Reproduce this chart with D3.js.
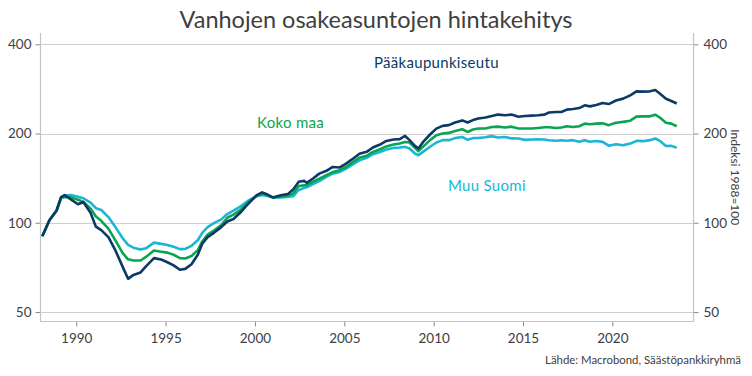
<!DOCTYPE html>
<html>
<head>
<meta charset="utf-8">
<script src="https://cdn.jsdelivr.net/npm/d3@7"></script>
<style>
  body { margin: 0; background: #fff; }
  svg { display: block; font-family: Lato, "Open Sans", sans-serif; }
</style>
</head>
<body>
<script>
// vuosineljännekset desimaalivuosina (luettu kuvasta)
const dates = [1988.1, 1988.5, 1988.9, 1989.15, 1989.35, 1989.7, 1990.1, 1990.4, 1990.8, 1991.1,
  1991.4, 1991.8, 1992.2, 1992.6, 1992.9, 1993.2, 1993.6, 1993.9, 1994.35, 1994.75,
  1995.1, 1995.45, 1995.8, 1996.1, 1996.45, 1996.8, 1997.05, 1997.35, 1997.7, 1998.1,
  1998.45, 1998.8, 1999.2, 1999.6, 2000.1, 2000.4, 2000.7, 2001.0, 2001.45, 2001.85,
  2002.15, 2002.45, 2002.75, 2002.9, 2003.25, 2003.6, 2004.0, 2004.35, 2004.75, 2005.1,
  2005.5, 2005.85, 2006.25, 2006.6, 2007.0, 2007.35, 2007.75, 2008.1, 2008.4, 2008.65,
  2008.95, 2009.15, 2009.4, 2009.8, 2010.15, 2010.5, 2010.85, 2011.2, 2011.6, 2011.9,
  2012.2, 2012.5, 2012.9, 2013.25, 2013.6, 2014.0, 2014.35, 2014.75, 2015.1, 2015.5,
  2015.85, 2016.2, 2016.45, 2016.85, 2017.15, 2017.45, 2017.8, 2018.15, 2018.45, 2018.75,
  2019.1, 2019.45, 2019.8, 2020.2, 2020.6, 2021.0, 2021.35, 2021.7, 2022.1, 2022.4,
  2022.65, 2023.0, 2023.3, 2023.6];

const paakaupunkiseutu = [90, 102, 110, 122, 124, 120, 115.5, 117.5, 108, 97,
  94.5, 89.5, 80.5, 71, 64.7, 66.7, 68, 71.3, 76, 75.2,
  73.6, 71.8, 69.4, 69.9, 72.5, 78, 85, 89.5, 92.5, 96.5,
  101, 103, 108.5, 115.5, 124, 126.6, 124.5, 121.8, 123.8, 125,
  129.8, 137.5, 138.5, 136.4, 141, 146.5, 149.7, 154.3, 153.7, 158.3,
  164.8, 171, 173.5, 179.5, 183.6, 188.8, 191, 191.5, 196.3, 190,
  181.7, 178, 187, 198.5, 207.8, 212.3, 213.5, 217.8, 221.5, 218,
  222, 224.7, 226.4, 229.2, 231.7, 230.5, 231.7, 228, 229.2, 229.8,
  230.5, 231.7, 235.5, 236.4, 236.4, 240.9, 242, 243.8, 249, 247,
  249.6, 253.5, 251.5, 258.5, 262.3, 269, 277.6, 277, 277.6, 280.3,
  273, 262, 257.5, 252.5];

const kokoMaa = [90, 102, 110, 121.5, 122, 122, 119.6, 117.6, 111.8, 105,
  101.5, 95.5, 87, 79, 75.3, 74.6, 74.6, 76.7, 80.6, 79.9,
  79.3, 78, 76, 75.8, 77.3, 80.8, 86.5, 91.2, 94.2, 98,
  104, 106.5, 110.5, 117, 123.3, 125, 124, 121.8, 122.4, 123.5,
  125.7, 133, 133.7, 134, 137.5, 140.8, 144.8, 148.3, 150.5, 154.2,
  160.5, 165.8, 168.2, 173.4, 177, 181, 183.6, 185, 187.4, 186.5,
  178.9, 174.4, 180.3, 190, 197.4, 200, 201, 204, 206.8, 202.5,
  206.3, 208, 208, 210.5, 211, 209.5, 211, 208, 208, 208,
  208.9, 210, 210, 208.9, 209.5, 211.6, 210.5, 211.6, 216, 215,
  216, 216.5, 213.5, 217.5, 219, 221, 228, 228.6, 228.6, 231.5,
  226.5, 217.5, 216, 211.6];

const muuSuomi = [90, 102, 110, 121, 123.5, 124, 122.4, 121, 117, 112,
  110.4, 104.5, 96.5, 88.7, 84.2, 82.4, 81.2, 82, 85.7, 84.9,
  84.2, 83, 81.5, 81.6, 83.6, 87.3, 92.5, 96.7, 99.7, 102.5,
  107, 110, 113.6, 118.5, 123, 124, 123.2, 121.8, 121.8, 122.5,
  123, 129, 131, 131.7, 135, 138.3, 142.9, 146.5, 148.5, 152.3,
  157.7, 162.4, 165.6, 170.3, 173.4, 176.6, 178.9, 179.5, 180.3, 178,
  171.3, 169, 173.4, 180.5, 186.5, 190, 190, 193, 194.8, 190.5,
  193, 193.3, 194.2, 196, 194, 194.8, 192.6, 192.4, 190.4, 191,
  191.4, 191, 189.8, 189, 189.8, 189, 190, 187.5, 190, 187.6,
  188.8, 187.5, 182, 184, 182.6, 185, 189, 188.5, 190, 192.4,
  189, 181.5, 181.7, 179];

const yTicks = [50, 100, 200, 400];
const xTicks = [1990, 1995, 2000, 2005, 2010, 2015, 2020];

const series = [
  { name: "Muu Suomi", values: muuSuomi, color: "#1cb5d6", lx: 448, ly: 191 },
  { name: "Koko maa", values: kokoMaa, color: "#0aa552", lx: 257, ly: 128 },
  { name: "Pääkaupunkiseutu", values: paakaupunkiseutu, color: "#0b3a66", lx: 374, ly: 68 }
];

const W = 752, H = 376;
const pLeft = 40.5, pRight = 693.5, pTop = 33, pBottom = 321.5;

const svg = d3.select("body").append("svg")
  .attr("width", W)
  .attr("height", H);

const x = d3.scaleLinear()
  .domain([1988, 2024.54])
  .range([pLeft, pRight]);

const y = d3.scaleLog()
  .domain([46.45, 436.7])
  .range([pBottom, pTop]);

// gridlines
svg.append("g")
  .selectAll("line")
  .data(yTicks)
  .join("line")
  .attr("x1", pLeft).attr("x2", pRight)
  .attr("y1", d => Math.round(y(d)) + 0.5)
  .attr("y2", d => Math.round(y(d)) + 0.5)
  .attr("stroke", "#cfcfcf")
  .attr("stroke-width", 1);

// axes
function styleAxis(g) {
  g.select(".domain").remove();
  g.selectAll(".tick line").attr("stroke", "#8a8a8a");
  g.selectAll(".tick text")
    .attr("fill", "#404040")
    .style("font-size", "13.5px")
    .style("font-family", "Lato, sans-serif");
}

svg.append("g")
  .attr("transform", `translate(0,${pBottom})`)
  .call(d3.axisBottom(x).tickValues(xTicks).tickFormat(d3.format("d")).tickSize(5).tickPadding(7))
  .call(styleAxis);

svg.append("g")
  .attr("transform", `translate(${pLeft},0)`)
  .call(d3.axisLeft(y).tickValues(yTicks).tickFormat(d3.format("d")).tickSize(5).tickPadding(4))
  .call(styleAxis);

svg.append("g")
  .attr("transform", `translate(${pRight},0)`)
  .call(d3.axisRight(y).tickValues(yTicks).tickFormat(d3.format("d")).tickSize(5).tickPadding(5))
  .call(styleAxis);

// axis lines
svg.append("path")
  .attr("d", `M${pLeft},${pTop}V${pBottom}H${pRight}V${pTop}`)
  .attr("fill", "none")
  .attr("stroke", "#c4c4c4")
  .attr("stroke-width", 1.2);

// lines
const line = d3.line()
  .x((d, i) => x(dates[i]))
  .y(d => y(d));

svg.append("g")
  .selectAll("path")
  .data(series)
  .join("path")
  .attr("fill", "none")
  .attr("stroke", d => d.color)
  .attr("stroke-width", 2.6)
  .attr("stroke-linejoin", "round")
  .attr("d", d => line(d.values));

svg.append("g")
  .selectAll("text")
  .data(series)
  .join("text")
  .attr("x", d => d.lx)
  .attr("y", d => d.ly)
  .attr("fill", d => d.color)
  .style("font-size", "15px")
  .style("letter-spacing", "0.3px")
  .text(d => d.name);

// title
svg.append("text")
  .attr("x", 376)
  .attr("y", 28)
  .attr("text-anchor", "middle")
  .attr("fill", "#404040")
  .style("font-size", "23.5px")
  .text("Vanhojen osakeasuntojen hintakehitys");

svg.append("text")
  .attr("transform", `translate(731,${(pTop + pBottom) / 2}) rotate(90)`)
  .attr("text-anchor", "middle")
  .attr("fill", "#404040")
  .style("font-size", "12px")
  .text("Indeksi 1988=100");

svg.append("text")
  .attr("x", 741)
  .attr("y", 364)
  .attr("text-anchor", "end")
  .attr("fill", "#404040")
  .style("font-size", "11.4px")
  .text("Lähde: Macrobond, Säästöpankkiryhmä");
</script>
</body>
</html>
